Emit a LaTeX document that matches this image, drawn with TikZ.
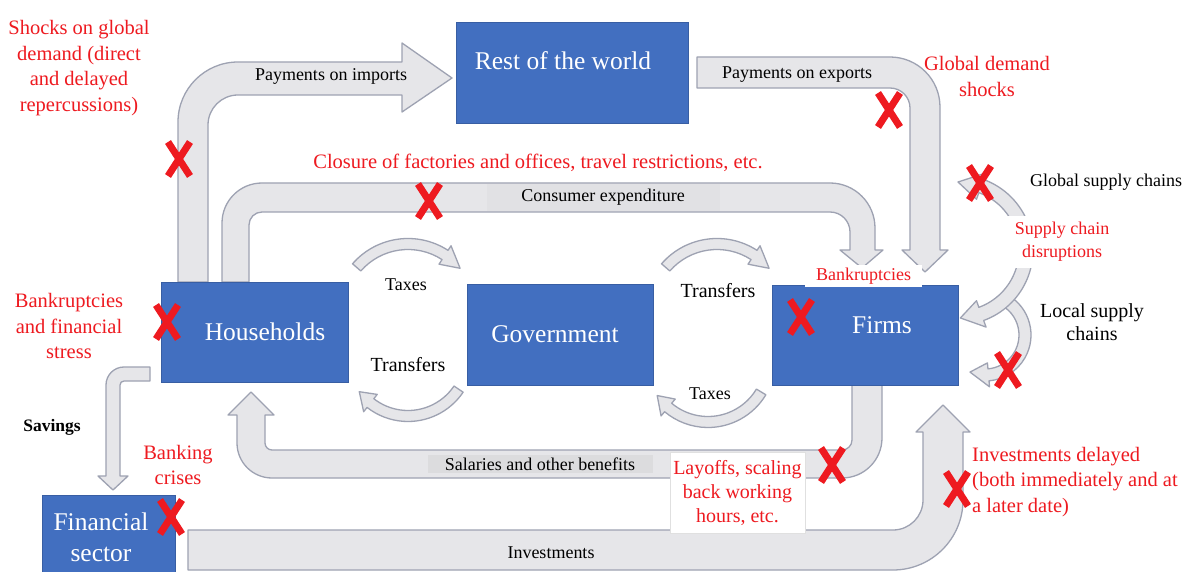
\documentclass[tikz,border=0pt]{standalone}
\usepackage{fontspec}
\setmainfont{Liberation Serif}
\usepackage{tikz}

\definecolor{boxblue}{RGB}{66,111,192}
\definecolor{flowfill}{RGB}{230,230,233}
\definecolor{flowline}{RGB}{158,162,178}
\definecolor{patchgray}{RGB}{220,220,222}
\definecolor{shockred}{RGB}{238,26,32}

% curved block arrow: centre x, centre y, start angle, head angle, tip angle, radius, half width
\newcommand{\roundflow}[7]{%
  \draw[flow] ([shift={(#3:#6+#7)}]#1,#2)
    arc[start angle=#3,end angle=#4,radius=#6+#7]
    -- ([shift={(#4:#6+2*#7)}]#1,#2)
    -- ([shift={(#5:#6)}]#1,#2)
    -- ([shift={(#4:#6-2*#7)}]#1,#2)
    -- ([shift={(#4:#6-#7)}]#1,#2)
    arc[start angle=#4,end angle=#3,radius=#6-#7]
    -- cycle;}

\begin{document}
\begin{tikzpicture}[x=1pt,y=-1pt,
  flow/.style={fill=flowfill,draw=flowline,line width=1.3pt,line join=round},
  sector/.style={rectangle,fill=boxblue,draw=boxblue!85!black,line width=0.6pt,inner sep=0pt},
  sectorname/.style={text=white,font=\fontsize{25.5}{31}\selectfont,align=center},
  shock/.style={text=shockred,font=\fontsize{20.5}{25.5}\selectfont,align=center},
  flowname/.style={font=\fontsize{18}{21}\selectfont},
  govname/.style={font=\fontsize{20}{24}\selectfont},
  xstroke/.style={draw=shockred,line width=7pt},
  xmark/.pic={\draw[xstroke] (-11,-17) -- (11,17); \draw[xstroke] (11,-17) -- (-11,17);}]

\clip (0,0) rectangle (1187,572);
\fill[white] (0,0) rectangle (1187,572);

% payments on imports
\draw[flow] (178,282) -- (178,122) arc[start angle=180,end angle=270,radius=60] -- (402,62) -- (402,43) -- (452,78) -- (402,112) -- (402,95) -- (238,95) arc[start angle=270,end angle=180,radius=30] -- (208,282) -- cycle;
% consumer expenditure
\draw[flow] (222,282) -- (222,223) arc[start angle=180,end angle=270,radius=40] -- (830,183) arc[start angle=270,end angle=360,radius=45] -- (875,250) -- (883,250) -- (862,268) -- (840,250) -- (850,250) -- (850,232) arc[start angle=0,end angle=-90,radius=20] -- (262,212) arc[start angle=270,end angle=180,radius=13] -- (249,282) -- cycle;
% payments on exports
\draw[flow] (697,57) -- (890,57) arc[start angle=270,end angle=360,radius=50] -- (940,250) -- (948,250) -- (925,272) -- (902,250) -- (910,250) -- (910,108) arc[start angle=0,end angle=-90,radius=20] -- (697,88) -- cycle;
% salaries
\draw[flow] (852,384) -- (852,440) arc[start angle=0,end angle=90,radius=10] -- (272,450) arc[start angle=90,end angle=180,radius=7] -- (265,415) -- (274,415) -- (251,392) -- (228,415) -- (237,415) -- (237,443) arc[start angle=180,end angle=90,radius=35] -- (842,478) arc[start angle=90,end angle=0,radius=40] -- (882,384) -- cycle;
% investments
\draw[flow] (188,570) -- (893,570) arc[start angle=90,end angle=0,radius=70] -- (963,432) -- (970,432) -- (943,405) -- (916,432) -- (923,432) -- (923,500) arc[start angle=0,end angle=90,radius=30] -- (188,530) -- cycle;
% savings
\draw[flow] (150,367) -- (124,367) arc[start angle=270,end angle=180,radius=18] -- (106,476) -- (98,476) -- (113,490) -- (128,476) -- (120,476) -- (120,385) arc[start angle=180,end angle=270,radius=4] -- (150,381) -- cycle;

% taxes and transfers
\roundflow{408}{312}{221}{303}{320}{68}{5.5}
\roundflow{408}{355}{34}{128}{143}{61}{5.5}
\roundflow{717}{312}{221}{303}{320}{68}{5.5}
\roundflow{708}{360}{31}{130}{145}{62}{5.5}

% supply chains
\roundflow{985}{335}{-60}{85}{112}{40}{6}
\draw[flow] ([shift={(70:61)}]958,250) -- ([shift={(70:54)}]958,250) -- ([shift={(88:68)}]958,250)
  -- ([shift={(70:82)}]958,250) -- ([shift={(70:75)}]958,250)
  arc[start angle=70,end angle=-70,radius=75]
  -- ([shift={(-70:82)}]958,250) -- ([shift={(-90:68)}]958,250)
  -- ([shift={(-70:54)}]958,250) -- ([shift={(-70:61)}]958,250)
  arc[start angle=-70,end angle=70,radius=61] -- cycle;

% sectors
\node[sector,minimum width=232pt,minimum height=101pt] (world) at (572,72.5) {};
\node[sectorname] (worldname) at (563,61) {Rest of the world};
\node[sector,minimum width=187pt,minimum height=100pt] (households) at (254.5,332) {};
\node[sectorname] (hhname) at (265,332) {Households};
\node[sector,minimum width=186pt,minimum height=101pt] (government) at (560,334.5) {};
\node[sectorname] (govname) at (555,334) {Government};
\node[sector,minimum width=186pt,minimum height=100pt] (firms) at (865,335) {};
\node[sectorname] (firmsname) at (882,325) {Firms};
\node[sector,minimum width=133pt,minimum height=85pt] (finance) at (108.5,537.5) {};
\node[sectorname] (financename) at (101,537) {Financial\\sector};

% flow labels
\node[flowname] (imports) at (331,76) {Payments on imports};
\node[flowname] (exports) at (797,75) {Payments on exports};
\node[flowname,fill=flowfill!98!black,minimum width=233pt,minimum height=27pt,inner sep=0pt] (spending) at (603,197.5) {Consumer expenditure};
\node[flowname] (taxesleft) at (406,285) {Taxes};
\node[govname] (transfersleft) at (408,365) {Transfers};
\node[govname] (transfersright) at (718,291) {Transfers};
\node[flowname] (taxesright) at (710,394) {Taxes};
\node[flowname,font=\fontsize{17.5}{21}\selectfont\bfseries] (savings) at (52,427) {Savings};
\node[flowname,fill=patchgray,minimum width=225pt,minimum height=18pt,inner sep=0pt] (salaries) at (540,464) {Salaries and other benefits};
\node[flowname] (investments) at (551,553) {Investments};
\node[flowname] (globalchains) at (1106,182) {Global supply chains};
\node[govname,align=center,font=\fontsize{20}{23}\selectfont] (localchains) at (1092,322) {Local supply\\chains};

% shocks
\node[shock] (demandshock) at (79,68) {Shocks on global\\demand (direct\\and delayed\\repercussions)};
\node[shock] (closure) at (538,163) {Closure of factories and offices, travel restrictions, etc.};
\node[shock,font=\fontsize{20.5}{26}\selectfont] (globalshock) at (987,76) {Global demand\\shocks};
\node[shock,font=\fontsize{18}{23}\selectfont,fill=white,minimum width=125pt,minimum height=52pt,inner sep=0pt] (disruption) at (1062,242) {Supply chain\\disruptions};
\node[shock,font=\fontsize{18}{21}\selectfont,fill=white,minimum width=117pt,minimum height=22pt,inner sep=0pt] (firmbankrupt) at (863.5,276) {Bankruptcies};
\node[shock] (hhbankrupt) at (69,326) {Bankruptcies\\and financial\\stress};
\node[shock,font=\fontsize{20.5}{25}\selectfont] (banking) at (178,465) {Banking\\crises};
\node[shock,font=\fontsize{20}{24}\selectfont,fill=white,draw=black!12,minimum width=135pt,minimum height=81pt,inner sep=0pt] (layoffs) at (737.5,492.5) {Layoffs, scaling\\back working\\hours, etc.};
\node[shock,align=left,anchor=west,inner sep=0pt] (delayed) at (972,482) {Investments delayed\\(both immediately and at\\a later date)};

% crosses
\pic at (179,159) {xmark};
\pic at (429,201) {xmark};
\pic at (889,110) {xmark};
\pic at (980,183) {xmark};
\pic at (1008,370) {xmark};
\pic at (167,322) {xmark};
\pic at (801,317) {xmark};
\pic at (832,465) {xmark};
\pic at (957,489) {xmark};
\pic at (171,517) {xmark};
\end{tikzpicture}
\end{document}
